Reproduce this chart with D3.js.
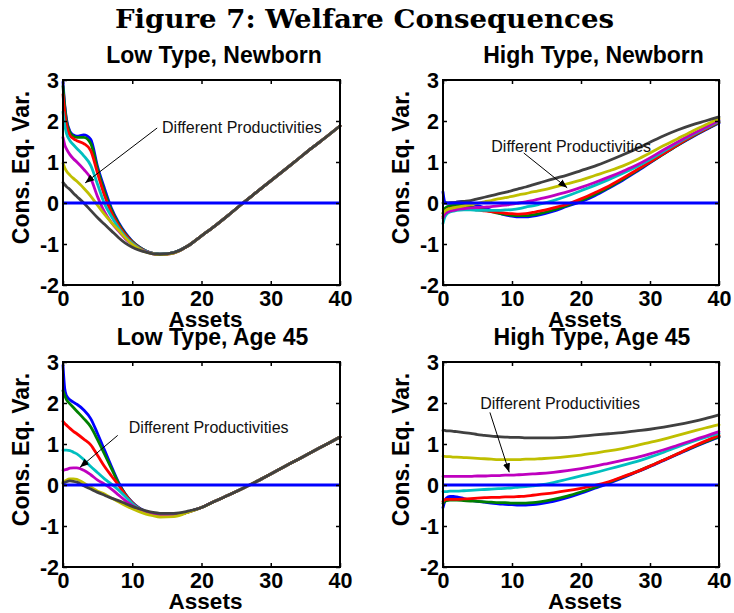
<!DOCTYPE html>
<html><head><meta charset="utf-8">
<script src="https://cdn.jsdelivr.net/npm/d3@7"></script>
<style>body{margin:0;background:#fff}</style>
</head><body><svg id="c" width="734" height="613"></svg>
<script>
// ---------------- DATA ----------------
const assets = [0,0.25,0.5,1,1.5,2,3,4,5,6,7,8,9,10,11,12,13,14,16,18,20,22,24,26,28,30,32,34,36,38,40];
const xTicks = [0,10,20,30,40];
const yTicks = [-2,-1,0,1,2,3];
const panelTitles = ["Low Type, Newborn","High Type, Newborn","Low Type, Age 45","High Type, Age 45"];
const figureTitle = "Figure 7: Welfare Consequences";
const xLabel = "Assets";
const yLabel = "Cons. Eq. Var.";
const annotationText = "Different Productivities";
const seriesColors = ["#0000ff","#008000","#ff0000","#00bfbf","#bf00bf","#bfbf00","#404040"];

// Low Type, Newborn
const lowNewborn1 = [2.95,2.4,2.05,1.75,1.66,1.63,1.66,1.55,0.88,0.35,-0.13,-0.47,-0.73,-0.93,-1.07,-1.17,-1.23,-1.25,-1.21,-1.05,-0.8,-0.55,-0.28,0.0,0.27,0.54,0.81,1.08,1.35,1.61,1.88];
const lowNewborn2 = [2.85,2.35,2.0,1.72,1.63,1.6,1.6,1.45,0.82,0.27,-0.17,-0.5,-0.75,-0.94,-1.08,-1.17,-1.23,-1.25,-1.21,-1.05,-0.8,-0.55,-0.28,0.0,0.27,0.54,0.81,1.08,1.35,1.61,1.88];
const lowNewborn3 = [2.65,2.2,1.9,1.65,1.57,1.52,1.45,1.28,0.72,0.18,-0.24,-0.54,-0.78,-0.96,-1.09,-1.18,-1.23,-1.25,-1.21,-1.05,-0.8,-0.55,-0.28,0.0,0.27,0.54,0.81,1.08,1.35,1.61,1.88];
const lowNewborn4 = [2.22,1.9,1.7,1.52,1.42,1.33,1.15,0.92,0.45,-0.02,-0.33,-0.6,-0.82,-0.98,-1.1,-1.18,-1.23,-1.25,-1.21,-1.05,-0.8,-0.55,-0.28,0.0,0.27,0.54,0.81,1.08,1.35,1.61,1.88];
const lowNewborn5 = [1.6,1.42,1.32,1.18,1.08,1.0,0.82,0.6,0.15,-0.22,-0.48,-0.68,-0.87,-1.01,-1.12,-1.19,-1.24,-1.26,-1.22,-1.05,-0.8,-0.55,-0.28,0.0,0.27,0.54,0.81,1.08,1.35,1.61,1.88];
const lowNewborn6 = [0.97,0.86,0.78,0.68,0.6,0.53,0.36,0.17,-0.06,-0.28,-0.48,-0.66,-0.85,-1.01,-1.12,-1.2,-1.24,-1.26,-1.22,-1.05,-0.8,-0.55,-0.28,0.0,0.27,0.54,0.81,1.08,1.35,1.61,1.88];
const lowNewborn7 = [0.5,0.45,0.4,0.33,0.24,0.16,0.0,-0.18,-0.36,-0.52,-0.68,-0.84,-0.98,-1.08,-1.15,-1.2,-1.24,-1.25,-1.21,-1.05,-0.8,-0.55,-0.28,0.0,0.27,0.54,0.81,1.08,1.35,1.61,1.88];

// High Type, Newborn
const highNewborn1 = [0.27,0.03,0.0,-0.01,0.0,0.02,0.04,0.0,-0.06,-0.12,-0.18,-0.24,-0.29,-0.32,-0.34,-0.34,-0.32,-0.29,-0.2,-0.08,0.03,0.18,0.36,0.55,0.76,0.98,1.2,1.41,1.6,1.78,1.95];
const highNewborn2 = [-0.25,-0.14,-0.1,-0.07,-0.06,-0.06,-0.06,-0.09,-0.13,-0.17,-0.21,-0.25,-0.28,-0.3,-0.31,-0.31,-0.29,-0.26,-0.17,-0.06,0.06,0.21,0.38,0.57,0.78,0.99,1.2,1.41,1.61,1.79,1.97];
const highNewborn3 = [-0.33,-0.22,-0.17,-0.13,-0.12,-0.12,-0.12,-0.14,-0.17,-0.19,-0.21,-0.23,-0.25,-0.26,-0.27,-0.26,-0.23,-0.2,-0.12,-0.03,0.1,0.25,0.41,0.6,0.8,1.0,1.21,1.42,1.62,1.8,1.98];
const highNewborn4 = [-0.5,-0.35,-0.28,-0.22,-0.2,-0.18,-0.17,-0.17,-0.18,-0.18,-0.18,-0.18,-0.17,-0.16,-0.14,-0.1,-0.07,-0.03,0.06,0.17,0.3,0.43,0.57,0.72,0.88,1.06,1.26,1.46,1.65,1.82,2.0];
const highNewborn5 = [-0.37,-0.28,-0.24,-0.2,-0.18,-0.16,-0.14,-0.12,-0.11,-0.1,-0.09,-0.07,-0.05,-0.03,0.0,0.03,0.06,0.1,0.18,0.27,0.38,0.5,0.63,0.77,0.92,1.1,1.3,1.49,1.67,1.84,2.02];
const highNewborn6 = [-0.25,-0.2,-0.17,-0.14,-0.12,-0.1,-0.07,-0.04,-0.01,0.03,0.06,0.1,0.13,0.16,0.2,0.23,0.27,0.3,0.38,0.47,0.56,0.67,0.78,0.9,1.05,1.22,1.4,1.57,1.74,1.9,2.06];
const highNewborn7 = [0.0,0.0,0.0,0.01,0.01,0.02,0.04,0.06,0.1,0.14,0.18,0.22,0.26,0.3,0.35,0.39,0.44,0.49,0.59,0.68,0.79,0.9,1.03,1.17,1.32,1.48,1.64,1.78,1.9,2.0,2.1];

// Low Type, Age 45
const lowAge1 = [2.92,2.35,2.18,2.08,2.02,1.97,1.83,1.62,1.25,0.85,0.45,0.07,-0.22,-0.42,-0.56,-0.65,-0.71,-0.74,-0.74,-0.66,-0.55,-0.39,-0.24,-0.08,0.09,0.27,0.45,0.63,0.81,0.99,1.17];
const lowAge2 = [2.3,2.18,2.08,1.98,1.89,1.8,1.62,1.42,1.1,0.75,0.4,0.05,-0.23,-0.43,-0.57,-0.66,-0.71,-0.74,-0.74,-0.66,-0.55,-0.39,-0.24,-0.08,0.09,0.27,0.45,0.63,0.81,0.99,1.17];
const lowAge3 = [1.55,1.5,1.46,1.38,1.31,1.25,1.12,0.98,0.72,0.45,0.22,0.0,-0.24,-0.43,-0.57,-0.66,-0.71,-0.74,-0.74,-0.66,-0.55,-0.39,-0.24,-0.08,0.09,0.27,0.45,0.63,0.81,0.99,1.17];
const lowAge4 = [0.85,0.85,0.85,0.84,0.8,0.76,0.62,0.45,0.3,0.15,0.02,-0.12,-0.28,-0.45,-0.58,-0.67,-0.72,-0.74,-0.74,-0.66,-0.55,-0.39,-0.24,-0.08,0.09,0.27,0.45,0.63,0.81,0.99,1.17];
const lowAge5 = [0.36,0.37,0.38,0.41,0.42,0.42,0.36,0.25,0.12,0.02,-0.1,-0.24,-0.38,-0.5,-0.6,-0.67,-0.72,-0.75,-0.75,-0.66,-0.55,-0.39,-0.24,-0.08,0.09,0.27,0.45,0.63,0.81,0.99,1.17];
const lowAge6 = [0.07,0.09,0.12,0.15,0.15,0.14,0.05,-0.05,-0.15,-0.22,-0.32,-0.41,-0.5,-0.58,-0.65,-0.71,-0.75,-0.78,-0.77,-0.67,-0.55,-0.39,-0.24,-0.08,0.09,0.27,0.45,0.63,0.81,0.99,1.17];
const lowAge7 = [0.04,0.06,0.08,0.1,0.09,0.07,-0.02,-0.1,-0.18,-0.25,-0.32,-0.38,-0.45,-0.52,-0.58,-0.63,-0.67,-0.69,-0.69,-0.64,-0.55,-0.39,-0.24,-0.08,0.09,0.27,0.45,0.63,0.81,0.99,1.17];

// High Type, Age 45
const highAge1 = [-0.55,-0.4,-0.32,-0.28,-0.28,-0.29,-0.33,-0.37,-0.4,-0.42,-0.44,-0.46,-0.47,-0.48,-0.49,-0.49,-0.48,-0.46,-0.4,-0.31,-0.2,-0.08,0.04,0.17,0.31,0.45,0.6,0.75,0.9,1.04,1.17];
const highAge2 = [-0.45,-0.4,-0.38,-0.37,-0.37,-0.37,-0.38,-0.39,-0.4,-0.41,-0.42,-0.43,-0.43,-0.44,-0.44,-0.44,-0.43,-0.41,-0.35,-0.27,-0.17,-0.06,0.06,0.19,0.32,0.46,0.61,0.76,0.91,1.05,1.18];
const highAge3 = [-0.4,-0.36,-0.35,-0.35,-0.35,-0.35,-0.34,-0.33,-0.32,-0.31,-0.3,-0.3,-0.29,-0.29,-0.28,-0.27,-0.25,-0.23,-0.19,-0.14,-0.08,-0.01,0.08,0.2,0.32,0.46,0.61,0.76,0.92,1.07,1.21];
const highAge4 = [-0.16,-0.16,-0.16,-0.15,-0.15,-0.15,-0.14,-0.13,-0.12,-0.11,-0.1,-0.09,-0.08,-0.07,-0.05,-0.04,-0.02,0.0,0.06,0.14,0.22,0.3,0.39,0.48,0.57,0.68,0.8,0.93,1.05,1.16,1.26];
const highAge5 = [0.21,0.21,0.21,0.21,0.21,0.21,0.21,0.21,0.22,0.22,0.23,0.23,0.24,0.24,0.25,0.26,0.27,0.28,0.31,0.35,0.4,0.46,0.53,0.6,0.67,0.76,0.86,0.97,1.08,1.19,1.3];
const highAge6 = [0.7,0.7,0.69,0.69,0.68,0.68,0.67,0.66,0.65,0.64,0.63,0.62,0.62,0.62,0.62,0.63,0.63,0.64,0.66,0.69,0.73,0.78,0.83,0.89,0.96,1.04,1.12,1.21,1.3,1.39,1.47];
const highAge7 = [1.33,1.33,1.32,1.32,1.31,1.3,1.28,1.26,1.23,1.21,1.19,1.18,1.17,1.16,1.16,1.15,1.15,1.15,1.15,1.16,1.19,1.22,1.25,1.28,1.32,1.36,1.41,1.47,1.54,1.62,1.71];

// annotation anchors in data units: [textX, textY, arrowFromX, arrowFromY, arrowToX, arrowToY]
const annoLowNewborn  = [14.3,1.71,13.6,1.83,3.2,0.49];
const annoHighNewborn = [7.0,1.24,11.7,1.22,18.0,0.37];
const annoLowAge      = [9.5,1.26,7.9,1.21,2.45,0.43];
const annoHighAge     = [5.4,1.85,6.8,1.77,9.6,0.31];

// ---------------- LAYOUT ----------------
const panels = [
  {title: panelTitles[0], series:[lowNewborn1,lowNewborn2,lowNewborn3,lowNewborn4,lowNewborn5,lowNewborn6,lowNewborn7], anno: annoLowNewborn,  box:{l:63,r:340,t:80,b:285},  titleDx: 12.5},
  {title: panelTitles[1], series:[highNewborn1,highNewborn2,highNewborn3,highNewborn4,highNewborn5,highNewborn6,highNewborn7], anno: annoHighNewborn, box:{l:443,r:719,t:80,b:285}, titleDx: 12.5},
  {title: panelTitles[2], series:[lowAge1,lowAge2,lowAge3,lowAge4,lowAge5,lowAge6,lowAge7], anno: annoLowAge, box:{l:63,r:340,t:362,b:567}, titleDx: 11},
  {title: panelTitles[3], series:[highAge1,highAge2,highAge3,highAge4,highAge5,highAge6,highAge7], anno: annoHighAge, box:{l:443,r:719,t:362,b:567}, titleDx: 11}
];

const SANS = "'Liberation Sans', Arial, Helvetica, sans-serif";
const svg = d3.select("#c");
const fmt = d => String(d);

svg.append("defs").append("marker")
  .attr("id","arrowhead").attr("viewBox","0 0 10 10").attr("refX",10).attr("refY",5)
  .attr("markerWidth",9).attr("markerHeight",9).attr("markerUnits","userSpaceOnUse")
  .attr("orient","auto")
  .append("path").attr("d","M0,1 L10,5 L0,9 Z").attr("fill","#000");

svg.append("text")
  .attr("x",115).attr("y",28)
  .attr("font-family","'DejaVu Serif', 'Liberation Serif', serif")
  .attr("font-weight","bold").attr("font-size",26)
  .attr("textLength",499).attr("lengthAdjust","spacingAndGlyphs")
  .attr("fill","#000")
  .text(figureTitle);

panels.forEach(p => {
  const {l,r,t,b} = p.box;
  const x = d3.scaleLinear().domain([0,40]).range([l,r]);
  const y = d3.scaleLinear().domain([-2,3]).range([b,t]);
  const g = svg.append("g");

  // lines
  const line = d3.line().x((d,i)=>x(assets[i])).y(d=>y(d)).curve(d3.curveMonotoneX);
  p.series.forEach((s,i) => {
    g.append("path").attr("d",line(s)).attr("fill","none")
      .attr("stroke",seriesColors[i]).attr("stroke-width",2.8)
      .attr("stroke-linejoin","round").attr("stroke-linecap","round");
  });
  // zero line
  g.append("path").attr("d", d3.line()([[x(0),y(0)],[x(40),y(0)]]))
    .attr("stroke","#0000ff").attr("stroke-width",3).attr("fill","none");

  // axes
  const axB = g.append("g").attr("transform",`translate(0,${b})`)
    .call(d3.axisBottom(x).tickValues(xTicks).tickFormat(fmt).tickSizeInner(-4).tickSizeOuter(0).tickPadding(5));
  const axT = g.append("g").attr("transform",`translate(0,${t})`)
    .call(d3.axisTop(x).tickValues(xTicks).tickSizeInner(-4).tickSizeOuter(0).tickFormat(""));
  const axL = g.append("g").attr("transform",`translate(${l},0)`)
    .call(d3.axisLeft(y).tickValues(yTicks).tickFormat(fmt).tickSizeInner(-4).tickSizeOuter(0).tickPadding(4));
  const axR = g.append("g").attr("transform",`translate(${r},0)`)
    .call(d3.axisRight(y).tickValues(yTicks).tickSizeInner(-4).tickSizeOuter(0).tickFormat(""));
  [axB,axT,axL,axR].forEach(a => {
    a.select(".domain").remove();
    a.selectAll("line").attr("stroke","#000").attr("stroke-width",1.5);
    a.selectAll("text").attr("font-family",SANS).attr("font-weight","bold")
      .attr("font-size",21.5).attr("fill","#000");
  });
  axB.selectAll("text").attr("dy","0.76em");
  axL.selectAll("text").attr("dy","0.36em");

  g.append("rect").attr("x",l).attr("y",t).attr("width",r-l).attr("height",b-t)
    .attr("fill","none").attr("stroke","#000").attr("stroke-width",2);

  // titles & labels
  g.append("text").attr("x",(l+r)/2 + p.titleDx).attr("y",t-17)
    .attr("text-anchor","middle").attr("font-family",SANS).attr("font-weight","bold")
    .attr("font-size",23).attr("fill","#000").text(p.title);
  g.append("text").attr("x",(l+r)/2 + 4).attr("y",b+42)
    .attr("text-anchor","middle").attr("font-family",SANS).attr("font-weight","bold")
    .attr("font-size",22.5).attr("fill","#000").text(xLabel);
  const ylx = l - 34, yly = (t+b)/2 - 15;
  g.append("text").attr("transform",`translate(${ylx},${yly}) rotate(-90)`)
    .attr("text-anchor","middle").attr("font-family",SANS).attr("font-weight","bold")
    .attr("font-size",23).attr("fill","#000").text(yLabel);

  // annotation
  const a = p.anno;
  g.append("line").attr("x1",x(a[2])).attr("y1",y(a[3])).attr("x2",x(a[4])).attr("y2",y(a[5]))
    .attr("stroke","#000").attr("stroke-width",1).attr("marker-end","url(#arrowhead)");
  g.append("text").attr("x",x(a[0])).attr("y",y(a[1]))
    .attr("font-family",SANS).attr("font-size",16).attr("fill","#111").text(annotationText);
});
</script>
</body></html>
